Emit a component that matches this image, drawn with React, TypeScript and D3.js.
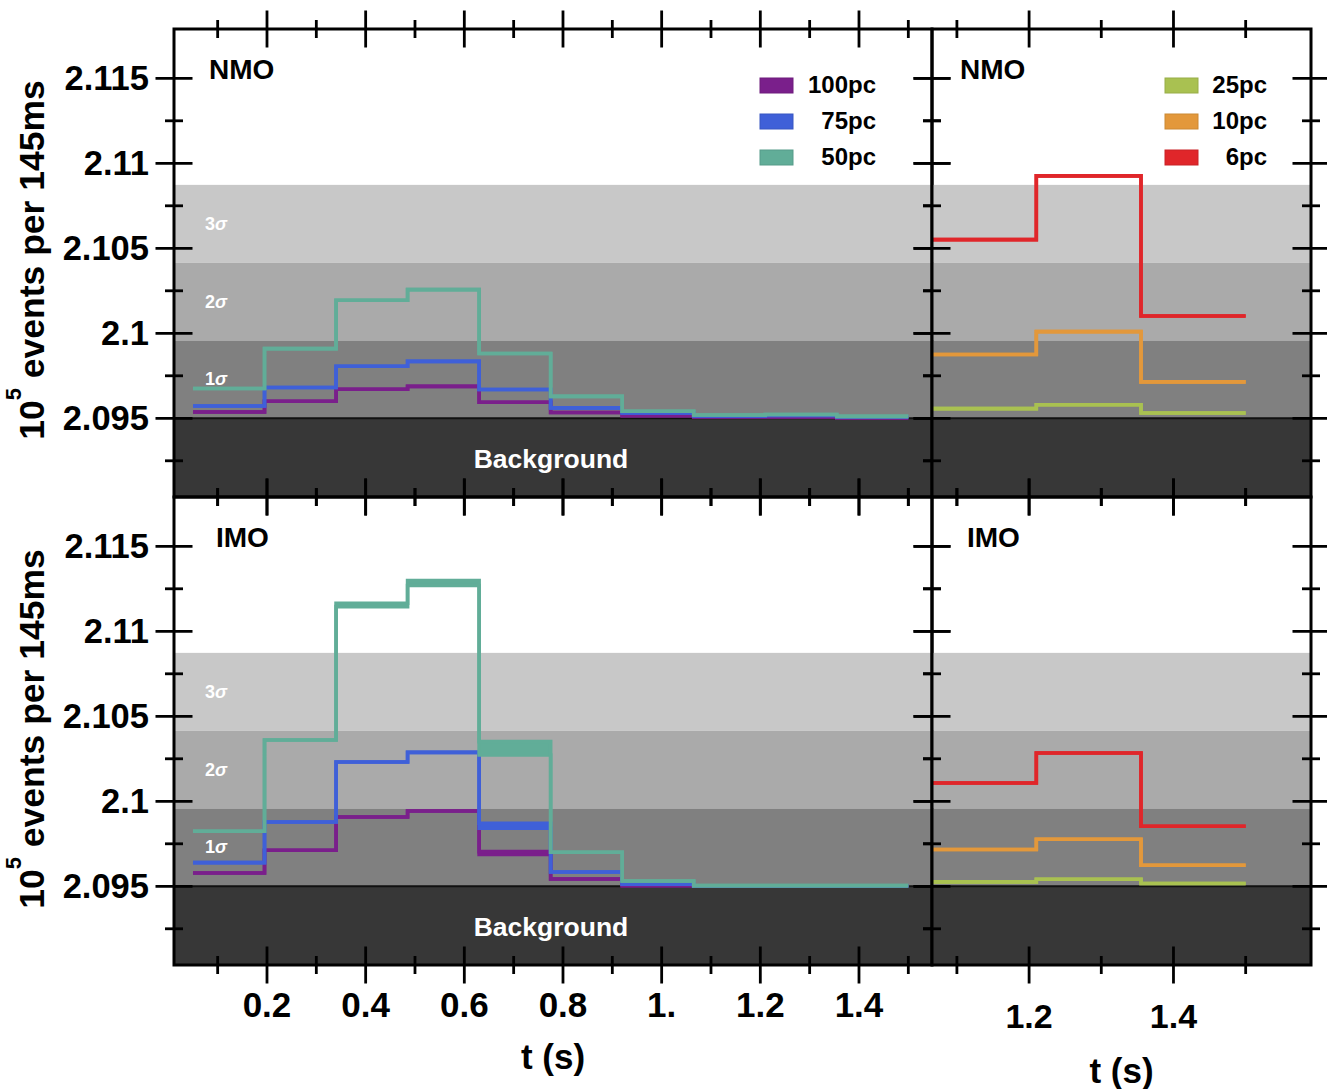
import React from 'react';
import * as d3 from 'd3';

// ---------- data ----------
const binEdges = [0.05, 0.195, 0.34, 0.485, 0.63, 0.775, 0.92, 1.065, 1.21, 1.355, 1.5];
const rightBinEdges = [1.065, 1.21, 1.355, 1.5];

// NMO, left panel (10^5 events per bin)
const nmo100 = [2.09537, 2.096, 2.09671, 2.09688, 2.09594, 2.09534, 2.09515, 2.09508, 2.09508, 2.09502];
const nmo75 = [2.09572, 2.09681, 2.09806, 2.09835, 2.09669, 2.09561, 2.09531, 2.09514, 2.09516, 2.09508];
const nmo50 = [2.09675, 2.0991, 2.10194, 2.10257, 2.09881, 2.09629, 2.09541, 2.09519, 2.09522, 2.09511];

// IMO, left panel (lower / upper edges of each band)
const imo100Lo = [2.09578, 2.09712, 2.09908, 2.09943, 2.09688, 2.09543, 2.09503, 2.09502, 2.09502, 2.09502];
const imo100Hi = [2.09578, 2.09712, 2.09908, 2.09943, 2.09704, 2.09543, 2.09503, 2.09502, 2.09502, 2.09502];
const imo75Lo = [2.09639, 2.09878, 2.10231, 2.10288, 2.09841, 2.09584, 2.09512, 2.09502, 2.09502, 2.09502];
const imo75Hi = [2.09639, 2.09878, 2.10231, 2.10288, 2.09871, 2.09584, 2.09512, 2.09502, 2.09502, 2.09502];
const imo50Lo = [2.09824, 2.10361, 2.11145, 2.11269, 2.10272, 2.097, 2.09531, 2.09504, 2.09504, 2.09504];
const imo50Hi = [2.09824, 2.10361, 2.11165, 2.11298, 2.10351, 2.097, 2.09531, 2.09504, 2.09504, 2.09504];

// right panels (bins 1.065 - 1.5 s)
const nmo25 = [2.09557, 2.0958, 2.09531];
const nmo10 = [2.09875, 2.1001, 2.09714];
const nmo6 = [2.10551, 2.10926, 2.10102];
const imo25 = [2.09526, 2.09541, 2.09516];
const imo10 = [2.09716, 2.09777, 2.09624];
const imo6 = [2.10108, 2.10284, 2.09853];

const background = 2.095;
const sigma = Math.sqrt(background * 1e5) / 1e5;

const leftXTicks = [0.2, 0.4, 0.6, 0.8, 1.0, 1.2, 1.4];
const leftXTickLabels = ['0.2', '0.4', '0.6', '0.8', '1.', '1.2', '1.4'];
const leftXMinor = [0.1, 0.3, 0.5, 0.7, 0.9, 1.1, 1.3, 1.5];
const rightXTicks = [1.2, 1.4];
const rightXTickLabels = ['1.2', '1.4'];
const rightXMinor = [1.1, 1.3, 1.5];
const yTicks = [2.095, 2.1, 2.105, 2.11, 2.115];
const yTickLabels = ['2.095', '2.1', '2.105', '2.11', '2.115'];
const yMinor = [2.0925, 2.0975, 2.1025, 2.1075, 2.1125];

const leftLegend = ['100pc', '75pc', '50pc'];
const rightLegend = ['25pc', '10pc', '6pc'];

// ---------- styling ----------
const C = {
  p100: '#7a1f8b',
  p75: '#3f60d8',
  p50: '#61ad98',
  p25: '#a9c151',
  p10: '#e3983b',
  p6: '#e0262a',
};
const FONT = '"Liberation Sans", Arial, Helvetica, sans-serif';

const LX = [174, 932];
const RX = [932, 1311];
const TOPY = [29, 497];
const BOTY = [497, 965];
const yDomain = [2.09037, 2.1179];
const leftDomain = [0.0115, 1.548];
const rightDomain = [1.0655, 1.5905];

type Series = { color: string; lo: number[]; hi: number[] };

function StepSeries({ s, edges, x, y }: { s: Series; edges: number[]; x: any; y: any }) {
  const pts = edges.map((e, i) => ({
    x: e,
    lo: s.lo[Math.min(i, s.lo.length - 1)],
    hi: s.hi[Math.min(i, s.hi.length - 1)],
  }));
  const area = d3
    .area<any>()
    .curve(d3.curveStepAfter)
    .x((d) => x(d.x))
    .y0((d) => y(d.lo))
    .y1((d) => y(d.hi));
  const lineLo = d3.line<any>().curve(d3.curveStepAfter).x((d) => x(d.x)).y((d) => y(d.lo));
  const lineHi = d3.line<any>().curve(d3.curveStepAfter).x((d) => x(d.x)).y((d) => y(d.hi));
  return (
    <g>
      <path d={area(pts) || ''} fill={s.color} stroke="none" />
      <path d={lineLo(pts) || ''} fill="none" stroke={s.color} strokeWidth={3.6} />
      <path d={lineHi(pts) || ''} fill="none" stroke={s.color} strokeWidth={3.6} />
    </g>
  );
}

function Panel({
  xr, yr, domain, series, edges, majorX, minorX, label, labelDx, legend, legendColors, legendRight, legendRectX, showSigmaLabels, showYLabels, xLabels, xLabelY, xLabelSize, titleY,
}: any) {
  const x = d3.scaleLinear().domain(domain).range(xr);
  const y = d3.scaleLinear().domain(yDomain).range([yr[1], yr[0]]);
  const bands = [3, 2, 1].map((k) => ({ k, y0: y(background + k * sigma), y1: y(background + (k - 1) * sigma) }));
  const bandFill: Record<number, string> = { 1: '#808080', 2: '#aaaaaa', 3: '#c8c8c8' };
  const w = xr[1] - xr[0];
  return (
    <g>
      {bands.map((b) => (
        <rect key={b.k} x={xr[0]} y={b.y0} width={w} height={b.y1 - b.y0} fill={bandFill[b.k]} />
      ))}
      <rect x={xr[0]} y={y(background)} width={w} height={yr[1] - y(background)} fill="#373737" />
      <line x1={xr[0]} x2={xr[1]} y1={y(background)} y2={y(background)} stroke="#111" strokeWidth={2} />
      {showSigmaLabels &&
        bands.map((b) => (
          <text key={'s' + b.k} x={xr[0] + 31} y={(b.y0 + b.y1) / 2 + 6} fill="#ffffff" fontFamily={FONT} fontSize={18} fontWeight={600}>
            {b.k}
            <tspan fontStyle="italic">σ</tspan>
          </text>
        ))}
      {showSigmaLabels && (
        <text x={(xr[0] + xr[1]) / 2 - 2} y={y(background) + 50} fill="#ffffff" fontFamily={FONT} fontWeight="bold" fontSize={26.5} textAnchor="middle">
          Background
        </text>
      )}
      {series.map((s: Series, i: number) => (
        <StepSeries key={i} s={s} edges={edges} x={x} y={y} />
      ))}
      {/* frame */}
      <rect x={xr[0]} y={yr[0]} width={w} height={yr[1] - yr[0]} fill="none" stroke="#000" strokeWidth={3} />
      {/* x ticks top & bottom */}
      {[yr[0], yr[1]].map((yy, j) => (
        <g key={'xt' + j}>
          {majorX.map((t: number) => (
            <line key={'M' + t} x1={x(t)} x2={x(t)} y1={yy - 18.5} y2={yy + 18.5} stroke="#000" strokeWidth={2.8} />
          ))}
          {minorX.map((t: number) => (
            <line key={'m' + t} x1={x(t)} x2={x(t)} y1={yy - 9} y2={yy + 9} stroke="#000" strokeWidth={2.8} />
          ))}
        </g>
      ))}
      {/* y ticks left & right */}
      {[xr[0], xr[1]].map((xx, j) => (
        <g key={'yt' + j}>
          {yTicks.map((t) => (
            <line key={'M' + t} x1={xx - 18.5} x2={xx + 18.5} y1={y(t)} y2={y(t)} stroke="#000" strokeWidth={2.8} />
          ))}
          {yMinor.filter((t) => y(t) > yr[0] && y(t) < yr[1]).map((t) => (
            <line key={'m' + t} x1={xx - 9} x2={xx + 9} y1={y(t)} y2={y(t)} stroke="#000" strokeWidth={2.8} />
          ))}
        </g>
      ))}
      {showYLabels &&
        yTicks.map((t, i) => (
          <text key={'yl' + t} x={xr[0] - 25} y={y(t) + 12} textAnchor="end" fontFamily={FONT} fontWeight="bold" fontSize={34.5}>
            {yTickLabels[i]}
          </text>
        ))}
      {xLabels &&
        majorX.map((t: number, i: number) => (
          <text key={'xl' + t} x={x(t)} y={xLabelY} textAnchor="middle" fontFamily={FONT} fontWeight="bold" fontSize={xLabelSize}>
            {xLabels[i]}
          </text>
        ))}
      {xLabels && (
        <text x={(xr[0] + xr[1]) / 2} y={titleY} textAnchor="middle" fontFamily={FONT} fontWeight="bold" fontSize={35}>
          t (s)
        </text>
      )}
      <text x={xr[0] + labelDx} y={yr[0] + 50} fontFamily={FONT} fontWeight="bold" fontSize={28}>
        {label}
      </text>
      {legend &&
        legend.map((name: string, i: number) => (
          <g key={name}>
            <rect x={legendRectX} y={78 + i * 36} width={33} height={15} fill={legendColors[i]} stroke={d3.color(legendColors[i])!.darker(0.3).toString()} strokeWidth={1} />
            <text x={legendRight} y={93 + i * 36} textAnchor="end" fontFamily={FONT} fontWeight="bold" fontSize={24}>
              {name}
            </text>
          </g>
        ))}
    </g>
  );
}

export default function App() {
  const leftTop: Series[] = [
    { color: C.p100, lo: nmo100, hi: nmo100 },
    { color: C.p75, lo: nmo75, hi: nmo75 },
    { color: C.p50, lo: nmo50, hi: nmo50 },
  ];
  const leftBot: Series[] = [
    { color: C.p100, lo: imo100Lo, hi: imo100Hi },
    { color: C.p75, lo: imo75Lo, hi: imo75Hi },
    { color: C.p50, lo: imo50Lo, hi: imo50Hi },
  ];
  const rightTop: Series[] = [
    { color: C.p25, lo: nmo25, hi: nmo25 },
    { color: C.p10, lo: nmo10, hi: nmo10 },
    { color: C.p6, lo: nmo6, hi: nmo6 },
  ];
  const rightBot: Series[] = [
    { color: C.p25, lo: imo25, hi: imo25 },
    { color: C.p10, lo: imo10, hi: imo10 },
    { color: C.p6, lo: imo6, hi: imo6 },
  ];
  const yTitle = (cy: number) => (
    <text transform={`translate(44, ${cy}) rotate(-90)`} textAnchor="middle" fontFamily={FONT} fontWeight="bold" fontSize={35.5}>
      10
      <tspan dy={-23} fontSize={22}>5</tspan>
      <tspan dy={23}> events per 145ms</tspan>
    </text>
  );
  return (
    <svg width={1327} height={1089} style={{ position: 'absolute', left: 0, top: 0, background: '#fff' }}>
      <rect width={1327} height={1089} fill="#fff" />
      <Panel xr={LX} yr={TOPY} domain={leftDomain} series={leftTop} edges={binEdges} majorX={leftXTicks} minorX={leftXMinor}
        label="NMO" labelDx={35} legend={leftLegend} legendColors={[C.p100, C.p75, C.p50]} legendRight={876} legendRectX={760} showSigmaLabels showYLabels />
      <Panel xr={LX} yr={BOTY} domain={leftDomain} series={leftBot} edges={binEdges} majorX={leftXTicks} minorX={leftXMinor}
        label="IMO" labelDx={42} showSigmaLabels showYLabels xLabels={leftXTickLabels} xLabelY={1017} xLabelSize={35} titleY={1069} />
      <Panel xr={RX} yr={TOPY} domain={rightDomain} series={rightTop} edges={rightBinEdges} majorX={rightXTicks} minorX={rightXMinor}
        label="NMO" labelDx={28} legend={rightLegend} legendColors={[C.p25, C.p10, C.p6]} legendRight={1267} legendRectX={1165} />
      <Panel xr={RX} yr={BOTY} domain={rightDomain} series={rightBot} edges={rightBinEdges} majorX={rightXTicks} minorX={rightXMinor}
        label="IMO" labelDx={35} xLabels={rightXTickLabels} xLabelY={1028} xLabelSize={34} titleY={1083} />
      {yTitle(260)}
      {yTitle(729)}
    </svg>
  );
}
